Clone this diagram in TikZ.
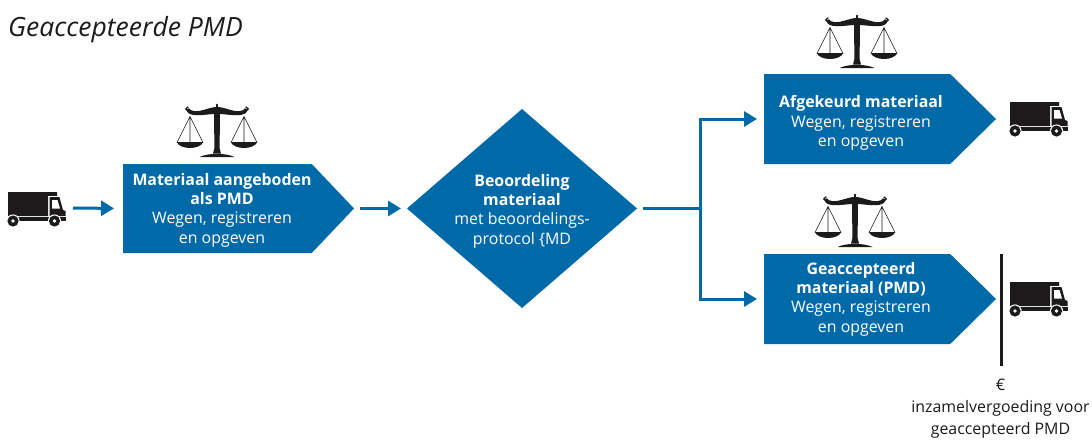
\documentclass[tikz,border=0pt]{standalone}
\usepackage{fontspec}
\setmainfont{Open Sans}
\usetikzlibrary{arrows.meta,shapes.geometric,shapes.symbols}
\definecolor{pmdblue}{HTML}{0069A8}
\definecolor{ink}{HTML}{1D1A1B}
\tikzset{
  flowbox/.style={shape=signal,signal to=east,signal from=nowhere,fill=pmdblue,draw=none,inner sep=0pt,outer sep=0pt,anchor=west},
  flowdiamond/.style={shape=diamond,fill=pmdblue,draw=none,inner sep=0pt,outer sep=0pt,shape aspect=1.156,minimum width=230pt,minimum height=199pt},
  boxtext/.style={text=white,align=center,inner sep=0pt,font=\fontsize{15.9}{19.4}\selectfont},
  notetext/.style={text=ink,align=center,inner sep=0pt,font=\fontsize{15.9}{22}\selectfont},
  conn/.style={draw=pmdblue,line width=3pt},
  arrowconn/.style={conn,-{Triangle[length=13pt,width=15pt]}},
  truck/.pic={
    \fill[ink] (0,0) rectangle (40,24.2) (40,0) rectangle (49,3.8);
    \fill[ink] (41.5,5.2) -- (51.5,5.2) -- (55,18) -- (57.5,19) -- (57.5,24.2) -- (41.5,24.2) -- cycle;
    \fill[white] (44,8) -- (49.5,8) -- (52,16.5) -- (44,16.5) -- cycle;
    \fill[ink] (0,25.4) rectangle (58,28.5);
    \foreach \wx in {5,46.5}{
      \fill[white] (\wx,29) circle (6.6);
      \fill[ink] (\wx,29) circle (5.6);
      \fill[white] (\wx,29) circle (1.9);
    }
    \coordinate (-out) at (65,16);
  },
  balance/.pic={
    \fill[ink] (0,0.8) circle (1.1);
    \fill[ink] (-0.7,1) rectangle (0.7,5);
    \fill[ink] (0,3) .. controls (-8,3) and (-15,8) .. (-23,7) .. controls (-26,6.6) and (-27,6) .. (-27.5,4.5)
      -- (-30,5) .. controls (-31,9.5) and (-26,11) .. (-21,11.2) .. controls (-14,11.4) and (-7,10) .. (0,9.8)
      .. controls (7,10) and (14,11.4) .. (21,11.2) .. controls (26,11) and (31,9.5) .. (30,5)
      -- (27.5,4.5) .. controls (27,6) and (26,6.6) .. (23,7) .. controls (15,8) and (8,3) .. (0,3) -- cycle;
    \draw[ink,line width=1.3pt] (-27.6,5) arc (0:300:1.8);
    \draw[ink,line width=1.3pt] (27.6,5) arc (180:-120:1.8);
    \fill[ink] (-3,8) -- (3,8) -- (2.6,44) -- (4,49.5) -- (-4,49.5) -- (-2.6,44) -- cycle;
    \fill[ink] (-17.5,53) .. controls (-9,48.8) and (9,48.8) .. (17.5,53) -- cycle;
    \foreach \sx in {-27,27}{
      \begin{scope}[xshift=\sx pt]
        \draw[ink,line width=0.6pt] (-13,38.5) -- (0,12.5) -- (13,38.5) (0,12.5) -- (0,38.5);
        \fill[ink] (-13.3,38) .. controls (-10,46) and (10,46) .. (13.3,38) -- cycle;
      \end{scope}
    }
  }
}
\begin{document}
\begin{tikzpicture}[x=1pt,y=-1pt]
\useasboundingbox (0,0) rectangle (1092,439);
\node[text=ink,anchor=base west,inner sep=0pt,font=\fontsize{26.5}{30}\selectfont\itshape] (title) at (8,36) {Geaccepteerde PMD};

\pic (t1) at (8,192) {truck};
\pic (t2) at (1010,102) {truck};
\pic (t3) at (1010,282) {truck};
\pic (s1) at (217,104) {balance};
\pic (s2) at (857,15) {balance};
\pic (s3) at (855,194) {balance};

\node[flowbox,minimum width=231pt,minimum height=89pt,signal pointer angle=93] (b1) at (123,208.5) {};
\node[flowbox,minimum width=232pt,minimum height=90pt,signal pointer angle=89] (b2) at (764,119) {};
\node[flowbox,minimum width=232pt,minimum height=90pt,signal pointer angle=89] (b3) at (764,299) {};
\node[flowdiamond] (d) at (522,208.5) {};

\node[boxtext] (b1t) at (222,210) {\textbf{Materiaal aangeboden}\\\textbf{als PMD}\\Wegen, registreren\\en opgeven};
\node[boxtext] (b2t) at (861,123) {\textbf{Afgekeurd materiaal}\\Wegen, registreren\\en opgeven};
\node[boxtext] (b3t) at (861,299) {\textbf{Geaccepteerd}\\\textbf{materiaal (PMD)}\\Wegen, registreren\\en opgeven};
\node[boxtext] (dt) at (522,211) {\textbf{Beoordeling}\\\textbf{materiaal}\\met beoordelings-\\protocol \{MD};

\draw[arrowconn,shorten >=9pt] (t1-out) -- (b1.west);
\draw[arrowconn,shorten <=6pt,shorten >=6pt] (b1.east) -- (d.west);
\coordinate (j) at (700,208.5);
\draw[conn,shorten <=6pt] (d.east) -- (j);
\draw[arrowconn,shorten >=7pt] (j) |- (b2.west);
\draw[arrowconn,shorten >=7pt] (j) |- (b3.west);

\coordinate (bartop) at (1001,254);
\coordinate (barbot) at (1001,366);
\draw[ink,line width=3pt] (bartop) -- (barbot);
\node[notetext] (note) at (1000.5,409) {€\\inzamelvergoeding voor\\geaccepteerd PMD};
\end{tikzpicture}
\end{document}
